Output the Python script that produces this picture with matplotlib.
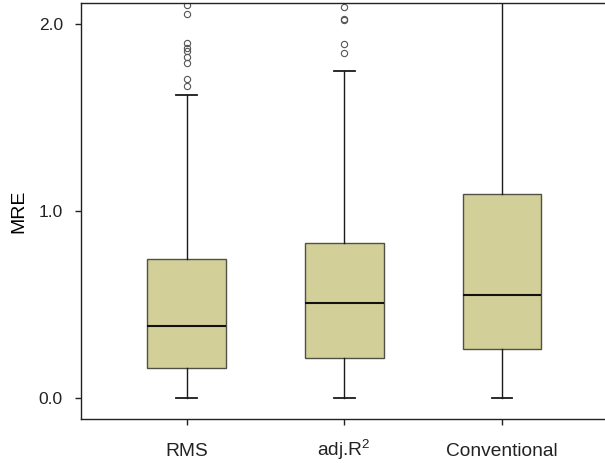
import matplotlib
matplotlib.use("Agg")
import matplotlib.pyplot as plt

plt.rcParams['font.family'] = ['Liberation Sans', 'DejaVu Sans']
plt.rcParams['mathtext.fontset'] = 'custom'
plt.rcParams['mathtext.rm'] = 'Liberation Sans'
plt.rcParams['mathtext.it'] = 'Liberation Sans'

# values
labels = ['RMS', 'adj.R$^{2}$', 'Conventional']
whislo = [0.0, 0.0, 0.0]
q1 = [0.158, 0.210, 0.260]
med = [0.381, 0.508, 0.550]
q3 = [0.742, 0.827, 1.091]
whishi = [1.621, 1.750, 2.50]
fliers = [
    [1.668, 1.704, 1.790, 1.825, 1.857, 1.870, 1.900, 2.052, 2.102],
    [1.843, 1.895, 2.020, 2.025, 2.093],
    [],
]

stats = []
for i in range(len(labels)):
    stats.append(dict(label=labels[i], whislo=whislo[i], q1=q1[i], med=med[i],
                      q3=q3[i], whishi=whishi[i], fliers=fliers[i]))

fig = plt.figure(figsize=(6.05, 4.63), dpi=100)
ax = fig.add_axes([81 / 605, 1 - 418.7 / 463, 1 - 81 / 605, (418.7 - 3.3) / 463])

ax.bxp(stats, positions=[1, 2, 3], widths=0.5, patch_artist=True,
       boxprops=dict(facecolor='#d3cf99', edgecolor='#505046', linewidth=1.0),
       medianprops=dict(color='#111111', linewidth=1.5),
       whiskerprops=dict(color='#1a1a1a', linewidth=1.0),
       capprops=dict(color='#1a1a1a', linewidth=1.3),
       capwidths=0.13,
       flierprops=dict(marker='o', markersize=4.5, markerfacecolor='none',
                       markeredgecolor='#555555', markeredgewidth=0.8))

ax.set_xlim(0.331, 3.653)
ax.set_ylim(-0.1135, 2.111)
ax.set_yticks([0.0, 1.0, 2.0])
ax.set_yticklabels(['0.0', '1.0', '2.0'])
ax.set_ylabel('MRE', fontsize=14, labelpad=8)

ax.spines['right'].set_visible(False)
for s in ['left', 'bottom', 'top']:
    ax.spines[s].set_linewidth(1.0)
    ax.spines[s].set_color('#222222')

ax.tick_params(axis='y', length=4.5, width=1.0, pad=8.5, labelsize=12.5, colors='#222222')
ax.tick_params(axis='x', length=4.5, width=1.0, pad=22.3, labelsize=13.8, colors='#222222')
# line the x labels up on a common baseline
for lab in ax.get_xticklabels():
    lab.set_verticalalignment('baseline')

fig.savefig('out.png', dpi=100)
